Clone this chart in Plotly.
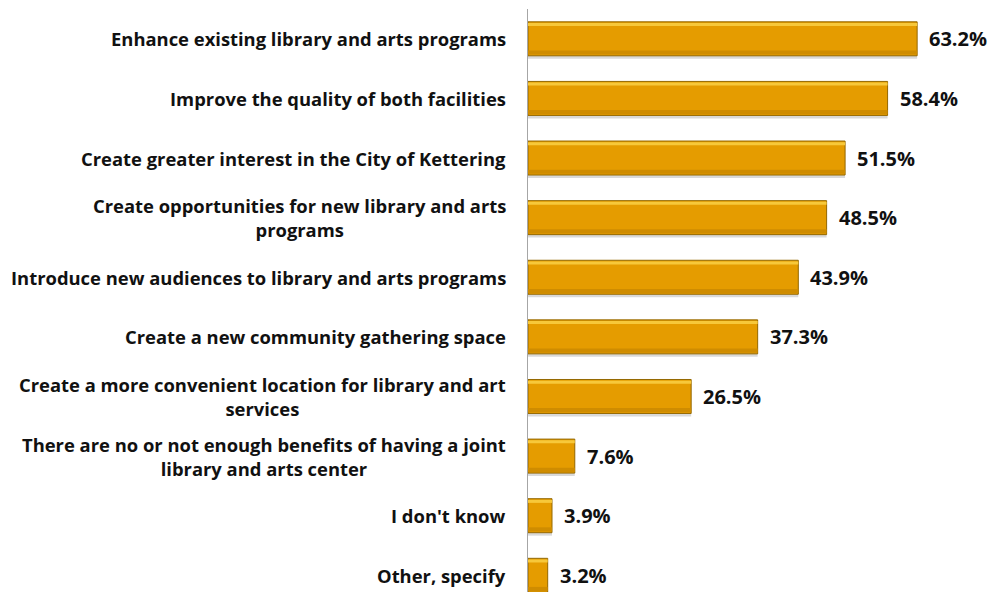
import plotly.graph_objects as go

# Survey responses: perceived benefits of a joint library and arts center
benefits = [
    "Enhance existing library and arts programs",
    "Improve the quality of both facilities",
    "Create greater interest in the City of Kettering",
    "Create opportunities for new library and arts<br>programs",
    "Introduce new audiences to library and arts programs",
    "Create a new community gathering space",
    "Create a more convenient location for library and art<br>services",
    "There are no or not enough benefits of having a joint<br>library and arts center",
    "I don't know",
    "Other, specify",
]
percent = [63.2, 58.4, 51.5, 48.5, 43.9, 37.3, 26.5, 7.6, 3.9, 3.2]

FONT = "Open Sans"
LABEL_SIZE = 18.4
VALUE_SIZE = 20
BAR_W = 0.57
half = BAR_W / 2

fig = go.Figure()

# soft drop shadow under each bar
fig.add_trace(go.Bar(
    y=benefits, x=percent, orientation="h",
    width=BAR_W, offset=-half + 0.05,
    marker=dict(color="rgba(0,0,0,0.15)", line=dict(width=0)),
    hoverinfo="skip",
))
# main gold bar
fig.add_trace(go.Bar(
    y=benefits, x=percent, orientation="h",
    width=BAR_W, offset=-half,
    marker=dict(color="#E59C00", line=dict(color="#946800", width=1)),
))
# darker lower band
fig.add_trace(go.Bar(
    y=benefits, x=percent, orientation="h",
    width=0.07, offset=half - 0.09,
    marker=dict(color="#CF8C00", line=dict(width=0)),
    hoverinfo="skip",
))
# bright highlight along the top edge
fig.add_trace(go.Bar(
    y=benefits, x=percent, orientation="h",
    width=0.05, offset=-half + 0.02,
    marker=dict(color="#F7C83A", line=dict(width=0)),
    hoverinfo="skip",
))

annotations = []
for name, val in zip(benefits, percent):
    # category label, wrapped lines centred on each other
    annotations.append(dict(
        x=0, xref="paper", y=name, yref="y", xanchor="right", yanchor="middle",
        xshift=-20, text=name, showarrow=False, align="center",
        font=dict(family=FONT, size=LABEL_SIZE, color="#111111", weight="bold"),
    ))
    # value label just past the bar end
    annotations.append(dict(
        x=val, xref="x", y=name, yref="y", xanchor="left", yanchor="middle",
        xshift=10, text=f"{val:.1f}%", showarrow=False,
        font=dict(family=FONT, size=VALUE_SIZE, color="#111111", weight="bold"),
    ))

fig.update_layout(
    width=994, height=592,
    margin=dict(l=528, r=35, t=9, b=0),
    paper_bgcolor="white", plot_bgcolor="white",
    barmode="overlay", showlegend=False,
    annotations=annotations,
    xaxis=dict(range=[0, 70], visible=False, fixedrange=True),
    yaxis=dict(
        type="category", categoryorder="array", categoryarray=benefits,
        range=[9.28, -0.5], showticklabels=False, ticks="",
        showline=True, linecolor="#A6A6A6", linewidth=1,
        showgrid=False, zeroline=False,
    ),
)

fig.write_html("out.html")
